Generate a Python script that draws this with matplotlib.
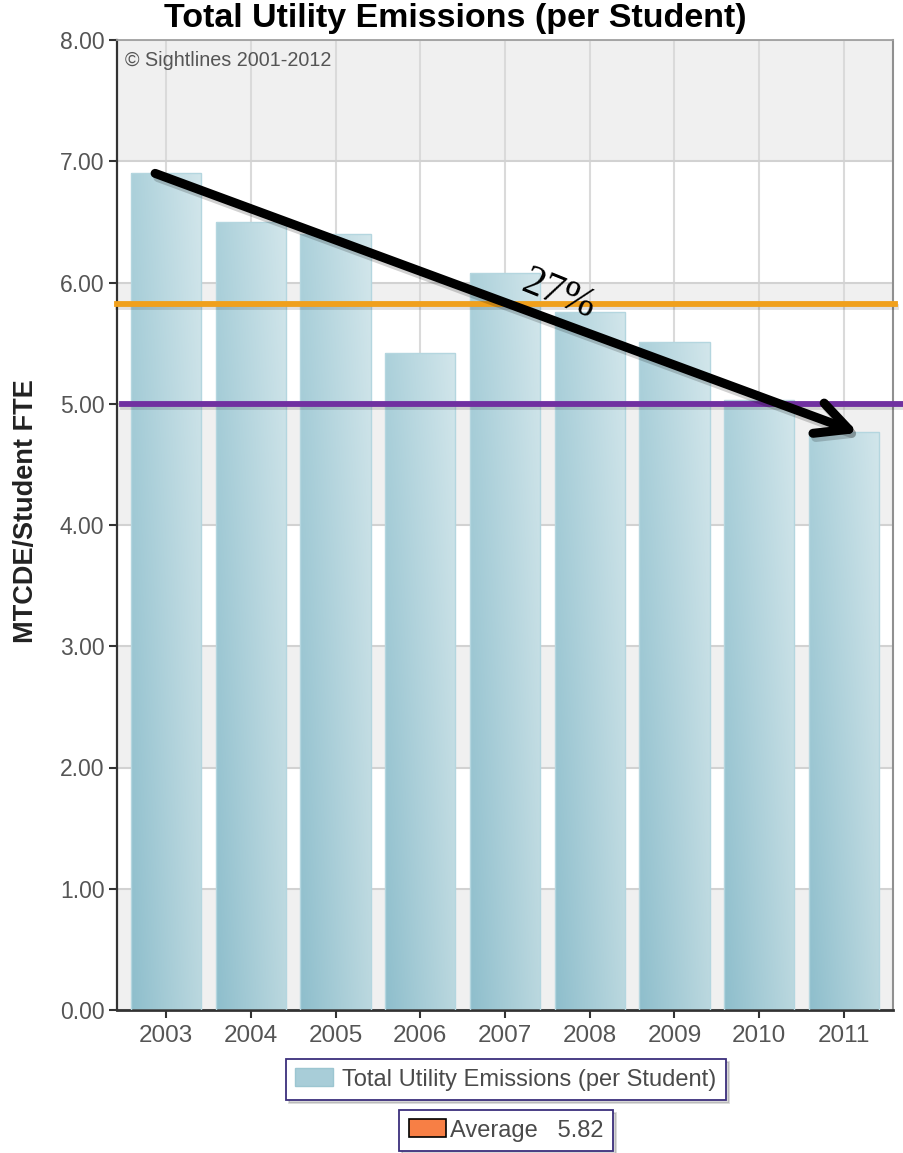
import matplotlib
matplotlib.use('Agg')
import matplotlib.pyplot as plt
import matplotlib.patheffects as pe
from matplotlib.patches import Patch
import numpy as np

# ---------------- data ----------------
years = ['2003', '2004', '2005', '2006', '2007', '2008', '2009', '2010', '2011']
emissions = [6.90, 6.50, 6.40, 5.42, 6.08, 5.76, 5.51, 5.03, 4.77]
average = 5.82
target = 5.00
y_ticks = [0, 1, 2, 3, 4, 5, 6, 7, 8]
gray_bands = [(0, 1), (2, 3), (4, 5), (average, 6), (7, 8)]
reduction_label = '27%'
title = 'Total Utility Emissions (per Student)'
y_label = 'MTCDE/Student FTE'
series_label = 'Total Utility Emissions (per Student)'
credit = '\u00a9 Sightlines 2001-2012'

plt.rcParams['font.family'] = ['Liberation Sans', 'DejaVu Sans']

W, H = 904, 1153
fig = plt.figure(figsize=(W / 100, H / 100), dpi=100)
ax = fig.add_axes([117 / W, 143 / H, (893 - 117) / W, (1010 - 40) / H])

x = np.arange(len(years))

# background bands
for lo, hi in gray_bands:
    ax.axhspan(lo, hi, color='#f0f0f0', zorder=0, lw=0)

# bars (outline) + gradient fill
bars = ax.bar(x, emissions, width=0.83, facecolor='none', edgecolor='#b4d6df',
              linewidth=1.0, zorder=3)
nx, ny = 64, 64
tx = np.linspace(0, 1, nx)[None, :, None]
ty = np.linspace(0, 1, ny)[:, None, None]
lb = np.array([0x8e, 0xbe, 0xcc]) / 255
rb = np.array([0xbb, 0xd8, 0xdf]) / 255
lt = np.array([0xab, 0xd0, 0xda]) / 255
rt = np.array([0xd2, 0xe6, 0xeb]) / 255
bottom = lb * (1 - tx) + rb * tx
top = lt * (1 - tx) + rt * tx
grad = bottom * (1 - ty) + top * ty
for b in bars:
    im = ax.imshow(grad, extent=[b.get_x(), b.get_x() + b.get_width(), 0, b.get_height()],
                   origin='lower', aspect='auto', zorder=2.5, interpolation='bilinear')
    im.set_clip_path(b)

# reference lines
shadow = [pe.SimpleLineShadow(offset=(1, -2), shadow_color='k', alpha=0.12), pe.Normal()]
ax.axhline(average, xmin=0, xmax=1.002, color='#f0a01c', lw=4.2, zorder=4,
           clip_on=False, path_effects=shadow)
ax.axhline(target, xmin=0.006, xmax=1.015, color='#7030a0', lw=4.2, zorder=4,
           clip_on=False, path_effects=shadow)

# arrow
ann = ax.annotate('', xy=(x[-1] + 0.17, emissions[-1] - 0.01),
                  xytext=(x[0] - 0.13, emissions[0]),
                  arrowprops=dict(arrowstyle='->,head_length=0.58,head_width=0.29',
                                  color='black', lw=6.5, mutation_scale=40,
                                  shrinkA=0, shrinkB=0),
                  zorder=6)
ann.arrow_patch.set_path_effects([pe.SimpleLineShadow(offset=(2, -3), shadow_color='k', alpha=0.18),
                                  pe.Normal()])
ax.text(4.63, 5.90, reduction_label, rotation=-22, fontsize=30, family='Liberation Serif',
        ha='center', va='center', rotation_mode='anchor', zorder=7, color='black')

# axes styling
ax.set_xlim(-0.58, 8.58)
ax.set_ylim(0, 8)
ax.set_xticks(x)
ax.set_xticklabels(years)
ax.set_yticks(y_ticks)
ax.set_yticklabels([f'{v:.2f}' for v in y_ticks])
ax.set_axisbelow(True)
ax.yaxis.grid(True, color='#d2d2d2', lw=1.5, zorder=0.5)
ax.xaxis.grid(True, color='#dadada', lw=1.5, zorder=0.5)
ax.tick_params(axis='y', direction='out', length=6, width=1.5, color='#333333',
               labelsize=16.5, labelcolor='#555555', pad=3)
ax.tick_params(axis='x', direction='out', length=6, width=1.5, color='#333333',
               labelsize=17.5, labelcolor='#555555', pad=5)
ax.spines['left'].set_color('#333333')
ax.spines['left'].set_linewidth(1.6)
ax.spines['bottom'].set_color('#333333')
ax.spines['bottom'].set_linewidth(2)
ax.spines['top'].set_color('#a0a0a0')
ax.spines['top'].set_linewidth(1.3)
ax.spines['right'].set_color('#909090')
ax.spines['right'].set_linewidth(1.5)
ax.set_facecolor('white')

ax.set_ylabel(y_label, fontsize=19.5, fontweight='bold', color='#222222')
ax.yaxis.set_label_coords(-0.100, 0.514)

ax.text(0.01, 0.979, credit, transform=ax.transAxes, ha='left', va='center',
        fontsize=14.2, color='#555555', zorder=7)

fig.text(455 / W, 1 - 19 / H, title, ha='center', va='center', fontsize=24.5,
         fontweight='bold', color='black')

# legends
h1 = Patch(facecolor='#a8cdd8', edgecolor='#9cc6d1')
h2 = Patch(facecolor='#f77f45', edgecolor='black', linewidth=1.2)
shadow_kw = {'alpha': 0.22}
leg1 = fig.legend([h1], [series_label], loc='center',
                  bbox_to_anchor=(506 / W, 1 - 1079.5 / H), frameon=True, fancybox=False,
                  shadow=shadow_kw, fontsize=17, handlelength=1.6, handleheight=0.8,
                  handletextpad=0.4, borderpad=0.4, labelcolor='#4a4a4a')
leg1.get_frame().set_edgecolor('#3c2f7c')
leg1.get_frame().set_linewidth(1.3)
leg2 = fig.legend([h2], [f'Average   {average:.2f}'], loc='center',
                  bbox_to_anchor=(506 / W, 1 - 1130.5 / H), frameon=True, fancybox=False,
                  shadow=shadow_kw, fontsize=17, handlelength=1.6, handleheight=0.8,
                  handletextpad=0.15, borderpad=0.4, labelcolor='#4a4a4a')
leg2.get_frame().set_edgecolor('#3c2f7c')
leg2.get_frame().set_linewidth(1.3)

fig.savefig('out.png', dpi=100, facecolor='white')
